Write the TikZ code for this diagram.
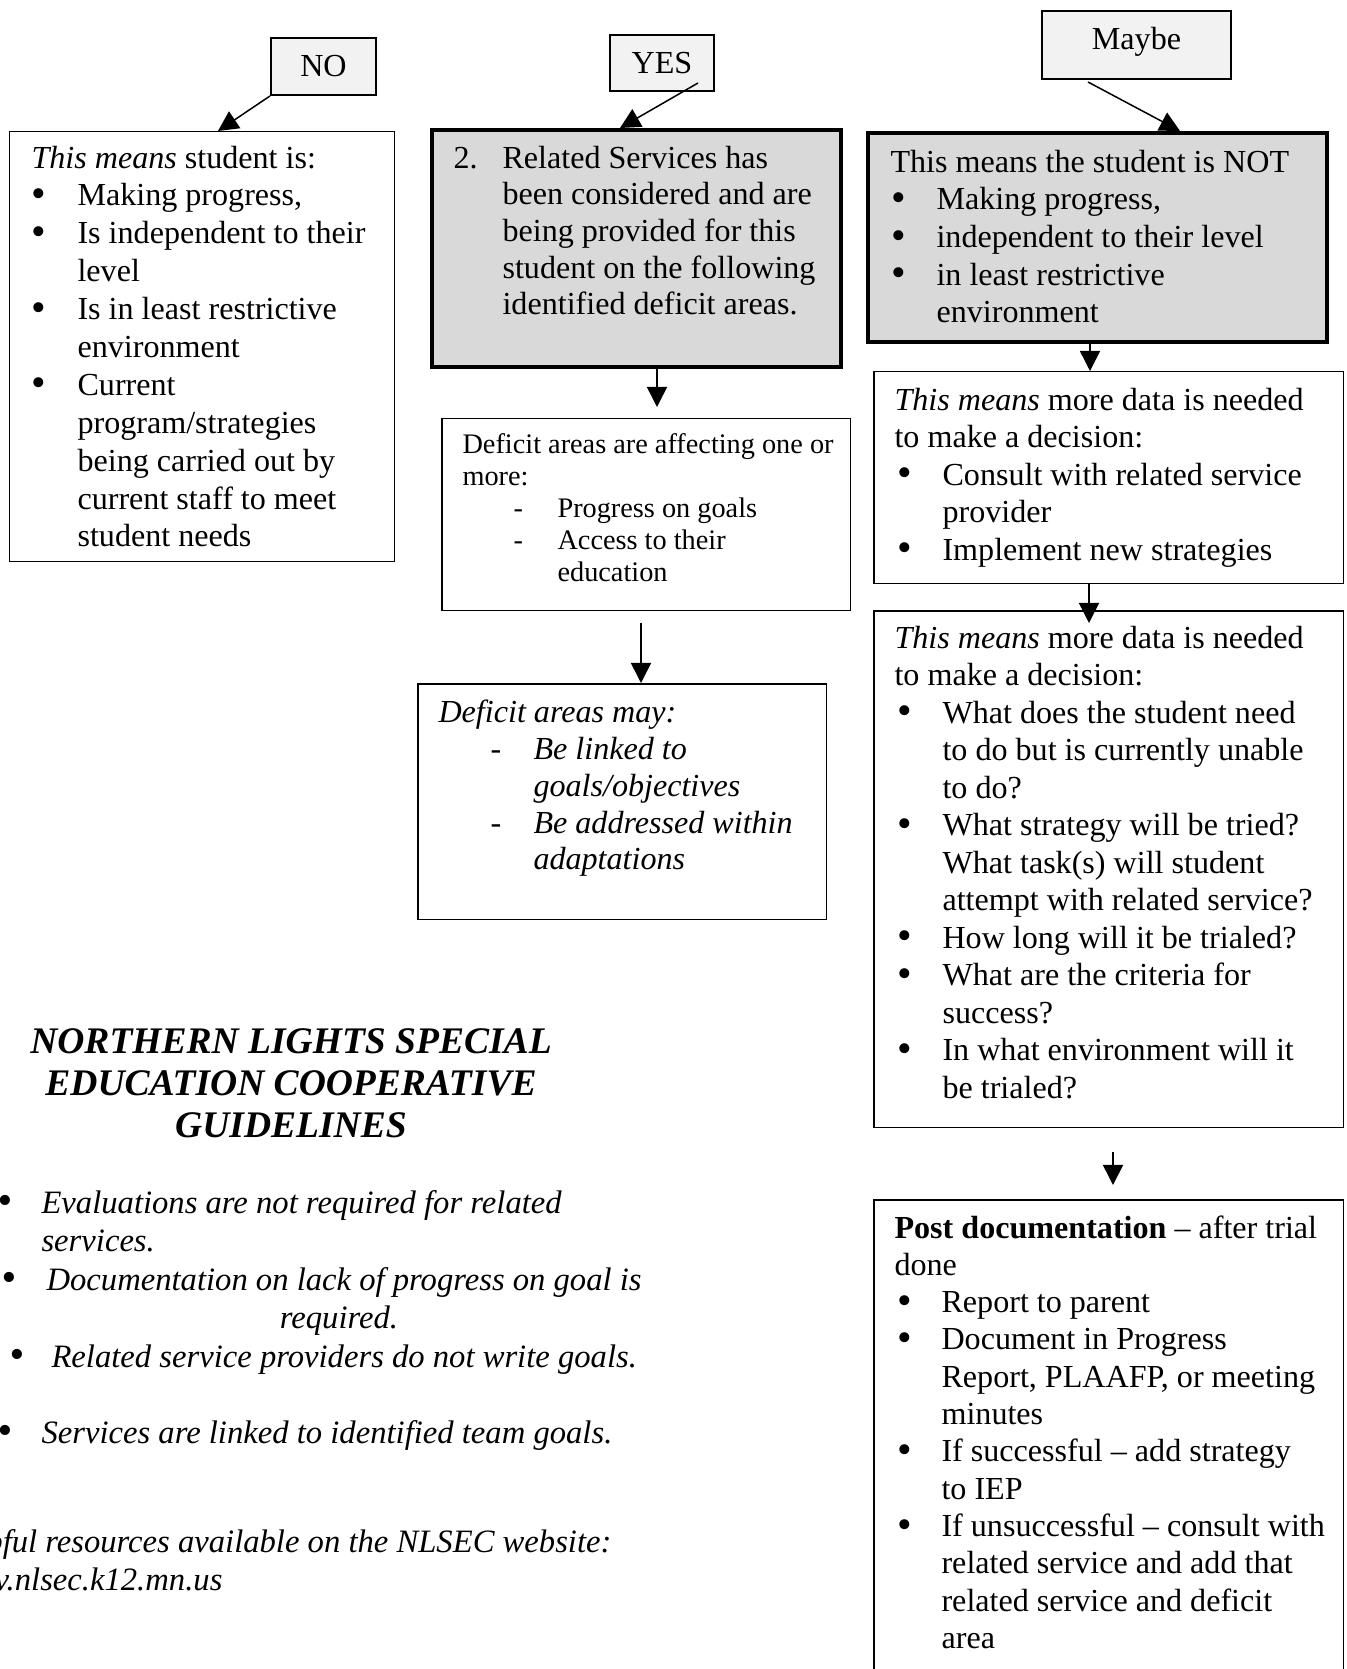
\documentclass[tikz,border=0pt]{standalone}
\usepackage{graphicx}
\usepackage{fontspec}
\setmainfont{Liberation Serif}
\usetikzlibrary{arrows.meta}
\newlength\pxl \setlength\pxl{0.3676pt}
\newlength\bi
\newlength\bo
\newcommand\bul{\makebox[\bi][l]{\hspace*{\bo}\raisebox{-0.6pt}{\scalebox{1.3}{•}}}}
\newcommand\ind{\hspace*{\bi}}
\newcommand\wsp{\spaceskip=0.25em plus 0.05em\xspaceskip=0.25em plus 0.05em\relax}
\definecolor{grayfill}{HTML}{D9D9D9}
\definecolor{lblfill}{HTML}{F2F2F2}
\begin{document}
\begin{tikzpicture}[x=0.3676pt, y=-0.3676pt,
  box/.style={draw=black, line width=0.55pt, inner sep=0pt, anchor=north west},
  thickbox/.style={box, line width=1.5pt, fill=grayfill},
  lbl/.style={draw=black, line width=0.7pt, fill=lblfill, inner sep=0pt, font=\fontsize{11.8}{13.8}\selectfont},
  txt/.style={inner sep=0pt, anchor=base west},
  arr/.style={line width=0.55pt, -{Triangle[width=7.4pt,length=7.4pt]}}
]
\useasboundingbox (0,0) rectangle (1346,1669);
\clip (0,0) rectangle (1346,1669);
\fill[white] (0,0) rectangle (1346,1669);

% ---- label boxes
\node[lbl, minimum width=105\pxl, minimum height=57\pxl] (noLbl) at (323.5,66.5) {NO};
\node[lbl, minimum width=104\pxl, minimum height=56\pxl] (yesLbl) at (662,63) {YES};
\node[lbl, minimum width=189\pxl, minimum height=68\pxl, text height=22\pxl, text depth=12\pxl] (maybeLbl) at (1136.5,45) {Maybe};

% ---- boxes
\node[box, minimum width=384.5\pxl, minimum height=429.5\pxl] (noBox) at (9,131) {};
\node[thickbox, minimum width=409\pxl, minimum height=237\pxl] (yesBox) at (430,128) {};
\node[thickbox, minimum width=459\pxl, minimum height=209\pxl] (notBox) at (866,131) {};
\node[box, minimum width=408.5\pxl, minimum height=191.5\pxl] (defBox) at (441,418) {};
\node[box, minimum width=408.5\pxl, minimum height=235.5\pxl] (mayBox) at (417,683) {};
\node[box, minimum width=469.5\pxl, minimum height=211.5\pxl] (boxC) at (873,371) {};
\node[box, minimum width=469.5\pxl, minimum height=516.5\pxl] (boxD) at (873,610) {};
\node[box, minimum width=469.5\pxl, minimum height=560\pxl] (boxE) at (873,1199) {};

% ---- box texts
\node[txt, text width=380\pxl, font=\fontsize{11.8}{13.93}\selectfont] (noTxt) at (31,168) {\raggedright\wsp\setlength\bi{46\pxl}\setlength\bo{0pt}%
\textit{This means} student is:\\
\bul Making progress,\\
\bul Is independent to their\\
\ind level\\
\bul Is in least restrictive\\
\ind environment\\
\bul Current\\
\ind program/strategies\\
\ind being carried out by\\
\ind current staff to meet\\
\ind student needs};

\node[txt, text width=400\pxl, font=\fontsize{11.8}{13.5}\selectfont] (yesTxt) at (453,168) {\raggedright\wsp\setlength\bi{49\pxl}%
\makebox[\bi][l]{2.}Related Services has\\
\ind been considered and are\\
\ind being provided for this\\
\ind student on the following\\
\ind identified deficit areas.};

\node[txt, text width=440\pxl, font=\fontsize{11.8}{13.87}\selectfont] (notTxt) at (890,172) {\raggedright\wsp\setlength\bi{46\pxl}\setlength\bo{1\pxl}%
This means the student is NOT\\
\bul Making progress,\\
\bul independent to their level\\
\bul in least restrictive\\
\ind environment};

\node[txt, text width=400\pxl, font=\fontsize{10.4}{11.85}\selectfont] (defTxt) at (462,453) {\raggedright\wsp
Deficit areas are affecting one or\\
more:\\
\makebox[95\pxl][l]{\hspace*{51\pxl}-}Progress on goals\\
\makebox[95\pxl][l]{\hspace*{51\pxl}-}Access to their\\
\hspace*{95\pxl}education};

\node[txt, text width=400\pxl, font=\fontsize{11.8}{13.6}\selectfont\itshape] (mayTxt) at (438,722) {\raggedright\wsp
Deficit areas may:\\
\makebox[95\pxl][l]{\hspace*{52\pxl}-}Be linked to\\
\hspace*{95\pxl}goals/objectives\\
\makebox[95\pxl][l]{\hspace*{52\pxl}-}Be addressed within\\
\hspace*{95\pxl}adaptations};

\node[txt, text width=460\pxl, font=\fontsize{11.8}{13.79}\selectfont] (cTxt) at (894,410) {\raggedright\wsp\setlength\bi{48\pxl}\setlength\bo{3\pxl}%
\textit{This means} more data is needed\\
to make a decision:\\
\bul Consult with related service\\
\ind provider\\
\bul Implement new strategies};

\node[txt, text width=460\pxl, font=\fontsize{11.8}{13.79}\selectfont] (dTxt) at (894,648) {\raggedright\wsp\setlength\bi{48\pxl}\setlength\bo{3\pxl}%
\textit{This means} more data is needed\\
to make a decision:\\
\bul What does the student need\\
\ind to do but is currently unable\\
\ind to do?\\
\bul What strategy will be tried?\\
\ind What task(s) will student\\
\ind attempt with related service?\\
\bul How long will it be trialed?\\
\bul What are the criteria for\\
\ind success?\\
\bul In what environment will it\\
\ind be trialed?};

\node[txt, text width=460\pxl, font=\fontsize{11.8}{13.72}\selectfont] (eTxt) at (894,1238) {\raggedright\wsp\setlength\bi{47\pxl}\setlength\bo{3\pxl}%
\textbf{Post documentation} – after trial\\
done\\
\bul Report to parent\\
\bul Document in Progress\\
\ind Report, PLAAFP, or meeting\\
\ind minutes\\
\bul If successful – add strategy\\
\ind to IEP\\
\bul If unsuccessful – consult with\\
\ind related service and add that\\
\ind related service and deficit\\
\ind area};

% ---- guidelines
\node[inner sep=0pt, anchor=base, text width=640\pxl, font=\fontsize{13.8}{15.45}\selectfont\bfseries\itshape] (head) at (291,1053) {\centering\wsp NORTHERN LIGHTS SPECIAL\\EDUCATION COOPERATIVE\\GUIDELINES\par};

\node[txt, text width=700\pxl, font=\fontsize{12}{14.3}\selectfont\itshape] (g1) at (-3,1213) {\raggedright\wsp\setlength\bi{44\pxl}\setlength\bo{0pt}%
\bul Evaluations are not required for related\\
\ind services.};
\node[txt, text width=700\pxl, font=\fontsize{12}{14.3}\selectfont\itshape] (g2) at (1,1290) {\raggedright\wsp\setlength\bi{45\pxl}\setlength\bo{0pt}%
\bul Documentation on lack of progress on goal is};
\node[inner sep=0pt, anchor=base, font=\fontsize{12}{14.3}\selectfont\itshape] (g2b) at (339,1328) {required.};
\node[txt, text width=700\pxl, font=\fontsize{12}{14.3}\selectfont\itshape] (g3) at (9,1367) {\raggedright\wsp\setlength\bi{42\pxl}\setlength\bo{0pt}%
\bul Related service providers do not write goals.};
\node[txt, text width=700\pxl, font=\fontsize{12}{14.3}\selectfont\itshape] (g4) at (-3,1443) {\raggedright\wsp\setlength\bi{44\pxl}\setlength\bo{0pt}%
\bul Services are linked to identified team goals.};
\node[inner sep=0pt, anchor=base east, font=\fontsize{12}{14.3}\selectfont\itshape] (res1) at (612,1552) {\wsp pful resources available on the NLSEC website:};
\node[inner sep=0pt, anchor=base east, font=\fontsize{12}{14.3}\selectfont\itshape] (res2) at (223,1590) {v.nlsec.k12.mn.us};

% ---- connectors
\coordinate (noTip) at (218,131);
\coordinate (yesFrom) at (698,83);
\coordinate (yesTip) at (620,128);
\coordinate (maybeFrom) at (1088,82);
\coordinate (maybeTip) at (1180,131);
\coordinate (t4) at (657,407);
\coordinate (s5) at (641,623);
\coordinate (x6) at (1090,0);
\coordinate (t7) at (1089,623);
\coordinate (s8) at (1113,1152);
\coordinate (t8) at (1113,1185);

\draw[arr] (noLbl.south west) -- (noTip);
\draw[arr] (yesFrom) -- (yesTip);
\draw[arr] (maybeFrom) -- (maybeTip);
\draw[arr] (t4 |- yesBox.south) -- (t4);
\draw[arr] (s5) -- (s5 |- mayBox.north);
\draw[arr] (x6 |- notBox.south) -- (x6 |- boxC.north);
\draw[arr] (t7 |- boxC.south) -- (t7);
\draw[arr] (s8) -- (t8);
\end{tikzpicture}
\end{document}
